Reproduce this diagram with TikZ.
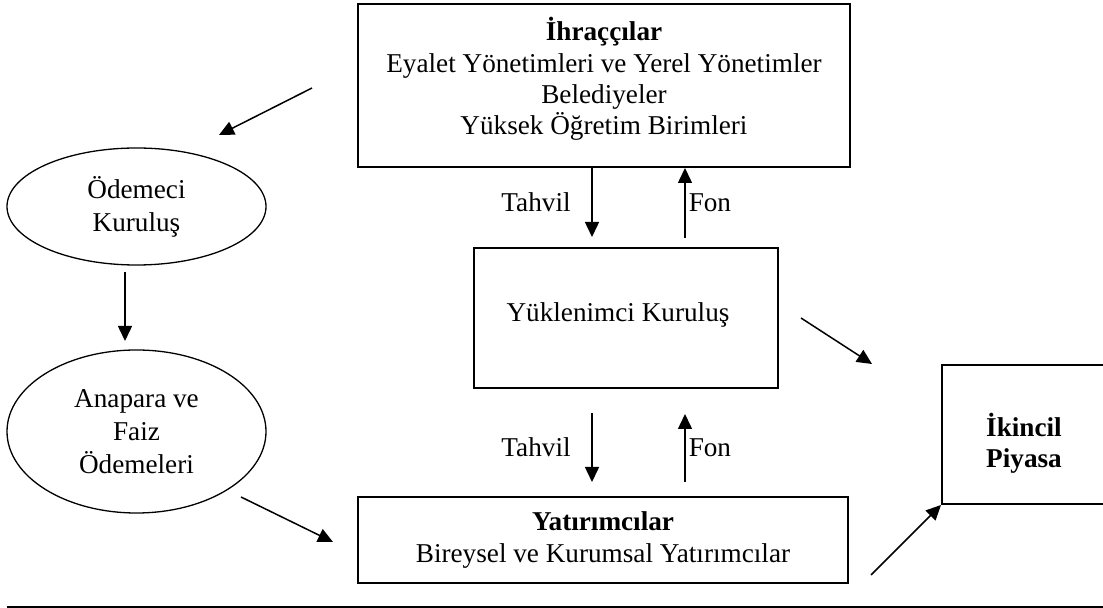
\documentclass[tikz,border=0pt]{standalone}
\usepackage{fontspec}
\setmainfont{Liberation Serif}
\usepackage{tikz}
\usetikzlibrary{arrows.meta,shapes.geometric,calc}
\tikzstyle{arrow} = [line width=0.75pt,-{Triangle[length=7.5pt,width=7pt]}]
\tikzstyle{box} = [draw, line width=1pt, rectangle, align=center, inner sep=0pt]
\tikzstyle{oval} = [draw, line width=0.65pt, ellipse, align=center, inner sep=0pt, font=\fontsize{13.6}{16.5}\selectfont]

\begin{document}
\begin{tikzpicture}[x=0.5pt, y=-0.5pt, font=\fontsize{13.6}{15.6}\selectfont]
  \useasboundingbox (0,0) rectangle (1103,608);

  % BOXES
  % issuers
  \node[box, minimum width=246pt, minimum height=81.5pt] (ihr) at (604,85.5) {};
  \node[align=center] (ihrt) at ($(ihr.center)+(0,-6.5)$)
    {\textbf{İhraççılar}\\Eyalet Yönetimleri ve Yerel Yönetimler\\Belediyeler\\Yüksek Öğretim Birimleri};
  % underwriter
  \node[box, minimum width=152pt, minimum height=70pt] (yuk) at (626,318) {};
  \node (yukt) at ($(yuk.center)+(-8,-3)$) {Yüklenimci Kuruluş};
  % investors
  \node[box, minimum width=245pt, minimum height=43pt] (yat) at (603,540)
    {\textbf{Yatırımcılar}\\Bireysel ve Kurumsal Yatırımcılar};
  % secondary market
  \node[box, minimum width=82pt, minimum height=69.5pt] (iki) at (1024,434.5) {};
  \node[align=center, font=\fontsize{13.6}{15.6}\selectfont\bfseries] (ikit) at ($(iki.center)+(0,9)$) {İkincil\\Piyasa};

  % ELLIPSES
  \node[oval, minimum width=129.5pt, minimum height=58.5pt] (odm) at (136.5,206.5) {Ödemeci\\Kuruluş};
  \node[oval, minimum width=129.5pt, minimum height=81.5pt] (ana) at (136.5,431.5) {Anapara ve\\Faiz\\Ödemeleri};

  % ARROWS
  % bond and fund columns
  \coordinate (tv) at (592,0);
  \coordinate (fn) at (685,0);
  % upper pair
  \draw[arrow] (ihr.south -| tv) -- ($(yuk.north -| tv)+(0,-10)$) node[midway, left=7pt] {Tahvil};
  \draw[arrow] ($(yuk.north -| fn)+(0,-9)$) -- (ihr.south -| fn) node[midway, right, inner sep=1.5pt] {Fon};
  % lower pair
  \draw[arrow] ($(yuk.south -| tv)+(0,24)$) -- ($(yat.north -| tv)+(0,-14)$) node[midway, left=7pt] {Tahvil};
  \draw[arrow] ($(yat.north -| fn)+(0,-14)$) -- ($(yuk.south -| fn)+(0,25)$) node[midway, right, inner sep=1.5pt] {Fon};

  % free arrows
  \coordinate (a1s) at (312,88);
  \coordinate (a1e) at (219,135);
  \draw[arrow] (a1s) -- (a1e);
  \coordinate (a2s) at (125,272);
  \coordinate (a2e) at (125,341);
  \draw[arrow] (a2s) -- (a2e);
  \coordinate (a3s) at (241,497);
  \coordinate (a3e) at (333,542);
  \draw[arrow] (a3s) -- (a3e);
  \coordinate (a4s) at (801,318);
  \coordinate (a4e) at (872,364);
  \draw[arrow] (a4s) -- (a4e);
  \coordinate (a5s) at (871,575);
  \draw[arrow] (a5s) -- (iki.south west);

  % bottom rule
  \draw[line width=1pt] (7,607) -- (1103,607);
\end{tikzpicture}
\end{document}
